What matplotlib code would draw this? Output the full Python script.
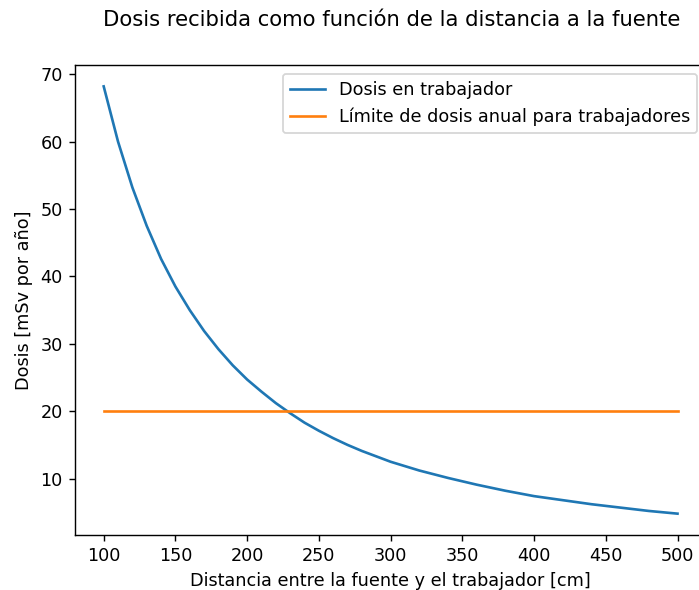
import matplotlib
matplotlib.use('Agg')
import matplotlib.pyplot as plt

# values
distancia = [100, 110, 120, 130, 140, 150, 160, 170, 180, 190, 200,
             210, 220, 230, 240, 250, 260, 270, 280, 290, 300,
             320, 340, 360, 380, 400, 420, 440, 460, 480, 500]
dosis = [68.2, 60.0, 53.2, 47.5, 42.6, 38.5, 35.0, 31.9, 29.2, 26.8, 24.7,
         22.9, 21.2, 19.7, 18.3, 17.1, 16.0, 15.0, 14.1, 13.3, 12.5,
         11.2, 10.1, 9.1, 8.2, 7.4, 6.8, 6.2, 5.7, 5.2, 4.8]
limite = [20, 20]
limite_x = [100, 500]

DPI = 127
fig = plt.figure(figsize=(699 / DPI, 590 / DPI), dpi=DPI)
ax = fig.add_axes([0.1073, 0.0932, 0.903, 0.7966])

ax.plot(distancia, dosis, label='Dosis en trabajador')
ax.plot(limite_x, limite, label='Límite de dosis anual para trabajadores')

ax.set_xlabel('Distancia entre la fuente y el trabajador [cm]')
ax.set_ylabel('Dosis [mSv por año]')
ax.legend(loc='upper right')

fig.text(0.561, 0.966, 'Dosis recibida como función de la distancia a la fuente',
         ha='center', va='center', fontsize=12)

fig.savefig('out.png', dpi=DPI)
